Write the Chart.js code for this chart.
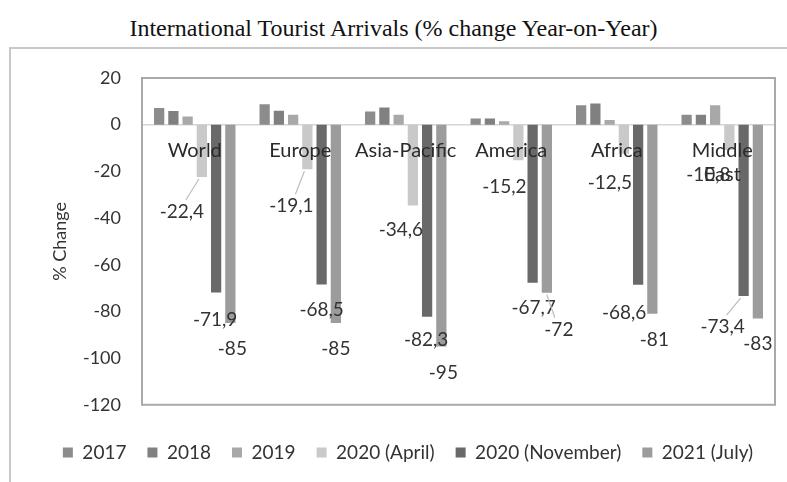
<!DOCTYPE html>
<html>
<head>
<meta charset="utf-8">
<title>International Tourist Arrivals</title>
<script src="https://cdn.jsdelivr.net/npm/chart.js@4/dist/chart.umd.min.js"></script>
<style>
  body { margin: 0; background: #fff; width: 787px; height: 482px; overflow: hidden; position: relative; }
  .heading { position: absolute; top: 15px; left: 0; width: 787px; text-align: center;
             font: 24px "Liberation Serif", "Times New Roman", serif; color: #111; }
  .frame { position: absolute; left: 9px; top: 47px; width: 800px; height: 460px; border: 2px solid #c8c8c8; }
  .chart-box { position: absolute; left: 11px; top: 49px; width: 776px; height: 433px; }
</style>
</head>
<body>
<div class="heading">International Tourist Arrivals (% change Year-on-Year)</div>
<div class="frame"></div>
<div class="chart-box"><canvas id="arrivals"></canvas></div>
<script>
const regions = ['World', 'Europe', 'Asia-Pacific', 'America', 'Africa', ['Middle', 'East']];
const periods = ['2017', '2018', '2019', '2020 (April)', '2020 (November)', '2021 (July)'];

const y2017 = [7.2, 8.8, 5.7, 2.6, 8.3, 4.3];
const y2018 = [5.9, 6.0, 7.4, 2.6, 9.1, 4.3];
const y2019 = [3.5, 4.3, 4.3, 1.5, 2.0, 8.3];
const apr2020 = [-22.4, -19.1, -34.6, -15.2, -12.5, -10.8];
const nov2020 = [-71.9, -68.5, -82.3, -67.7, -68.6, -73.4];
const jul2021 = [-85, -85, -95, -72, -81, -83];

const yTicks = [20, 0, -20, -40, -60, -80, -100, -120];

const greys = ['#8c8c8c', '#808080', '#a8a8a8', '#c9c9c9', '#696969', '#9c9c9c'];

// where each value label sits: [dx from bar centre, dy below bar end, leader line]
const labelNudge = {
  3: [[-20, 35, true], [-16, 37, true], [-12, 24], [-14, 27], [-14, 29], [-21, 25]],
  4: [[-1, 27], [0, 25], [-1, 23], [1, 25], [-14, 28], [-21, 31, true]],
  5: [[2, 26], [0, 26], [2, 26], [12, 37, true], [2, 26], [0, 25]]
};

const FONT = 'Lato';

// plot box outline plus the zero line under the bars
const plotFrame = {
  id: 'plotFrame',
  beforeDatasetsDraw(chart) {
    const { ctx, chartArea: a, scales } = chart;
    const y0 = scales.y.getPixelForValue(0);
    ctx.save();
    ctx.strokeStyle = '#d6d6d6';
    ctx.lineWidth = 1.5;
    ctx.beginPath();
    ctx.moveTo(a.left, y0);
    ctx.lineTo(a.right, y0);
    ctx.stroke();
    ctx.restore();
  },
  afterDraw(chart) {
    const { ctx, chartArea: a } = chart;
    ctx.save();
    ctx.strokeStyle = '#a9a9a9';
    ctx.lineWidth = 2;
    ctx.strokeRect(a.left, a.top, a.right - a.left, a.bottom - a.top);
    ctx.restore();
  }
};

const valueLabels = {
  id: 'valueLabels',
  afterDraw(chart) {
    const { ctx } = chart;
    ctx.save();
    ctx.font = '19px ' + FONT;
    ctx.fillStyle = '#333';
    ctx.textAlign = 'center';
    ctx.textBaseline = 'middle';
    Object.keys(labelNudge).forEach(di => {
      const meta = chart.getDatasetMeta(di);
      const values = chart.data.datasets[di].data;
      meta.data.forEach((bar, i) => {
        const [dx, dy, leader] = labelNudge[di][i];
        const txt = String(values[i]).replace('.', ',');
        const lx = bar.x + dx, ly = bar.y + dy;
        if (leader) {
          ctx.strokeStyle = '#bdbdbd';
          ctx.lineWidth = 1.2;
          ctx.beginPath();
          ctx.moveTo(bar.x + (dx < 0 ? -3 : 0), bar.y + 2);
          ctx.lineTo(lx + (dx < 0 ? 4 : -4), ly - 12);
          ctx.stroke();
        }
        ctx.fillText(txt, lx, ly);
      });
    });
    ctx.restore();
  }
};

const series = [y2017, y2018, y2019, apr2020, nov2020, jul2021];

new Chart(document.getElementById('arrivals'), {
  type: 'bar',
  data: {
    labels: regions,
    datasets: series.map((values, i) => ({
      label: periods[i],
      data: values,
      backgroundColor: greys[i],
      borderWidth: 0,
      categoryPercentage: 0.81,
      barPercentage: 0.72
    }))
  },
  options: {
    responsive: true,
    maintainAspectRatio: false,
    animation: false,
    layout: { padding: { left: 30, right: 12, top: 29, bottom: 10 } },
    plugins: {
      tooltip: { enabled: false },
      legend: {
        position: 'bottom',
        title: { display: true, text: ' ', font: { size: 1 }, padding: { top: 6, bottom: 10 } },
        labels: {
          boxWidth: 10, boxHeight: 10, padding: 21,
          color: '#333', font: { family: FONT, size: 19 }
        }
      }
    },
    scales: {
      x: {
        position: { y: 0 },
        grid: { display: false },
        border: { display: false },
        ticks: { z: 1, color: '#2a2a2a', padding: 6, font: { family: FONT, size: 20 }, maxRotation: 0 }
      },
      y: {
        min: -120, max: 20,
        afterBuildTicks: s => { s.ticks = yTicks.map(v => ({ value: v })); },
        afterFit: s => { s.width = 101; },
        grid: { display: false },
        border: { display: false },
        ticks: { color: '#333', padding: 13, font: { family: FONT, size: 18 } },
        title: { display: true, text: '% Change', color: '#333', padding: { top: 8, bottom: 0 },
                 font: { family: FONT, size: 18 } }
      }
    }
  },
  plugins: [plotFrame, valueLabels]
});
</script>
</body>
</html>
